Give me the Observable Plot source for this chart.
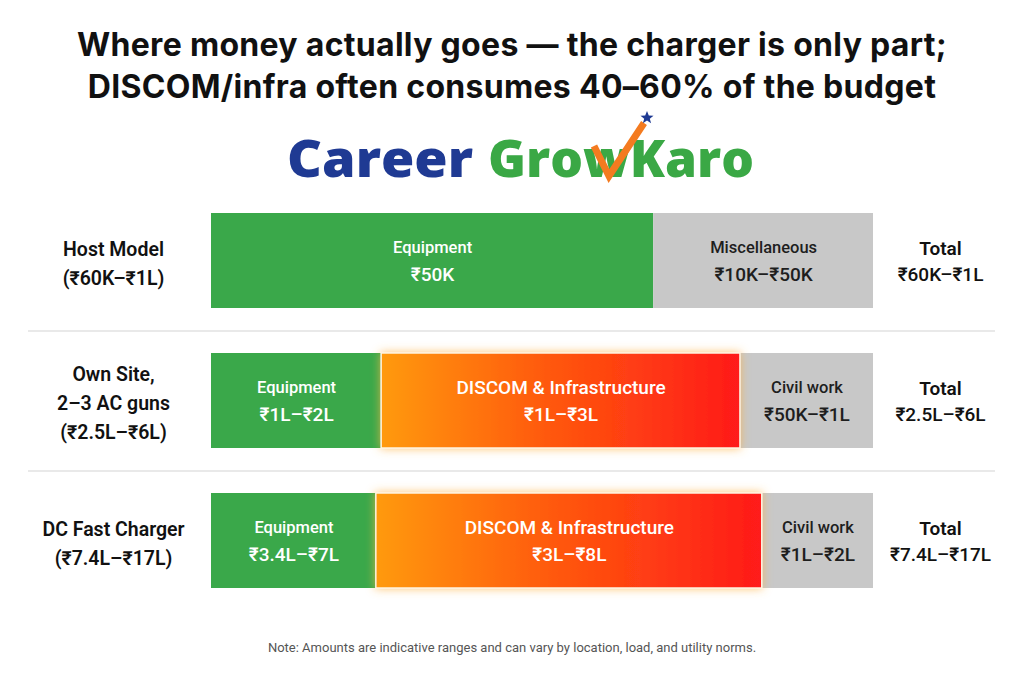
<!DOCTYPE html>
<html>
<head>
<meta charset="utf-8">
<script src="https://cdn.jsdelivr.net/npm/d3@7"></script>
<script src="https://cdn.jsdelivr.net/npm/@observablehq/plot@0.6"></script>
<style>
  html, body { margin:0; padding:0; background:#fff; }
  body { width:1024px; height:683px; position:relative; overflow:hidden; font-family: Roboto, "Noto Sans", "DejaVu Sans", sans-serif; }
  #title { position:absolute; left:0; top:24px; width:1024px; text-align:center; font-family: Inter, Roboto, sans-serif; font-weight:700; font-size:32px; line-height:42px; color:#111; letter-spacing:0.3px; }
  #logo { position:absolute; left:0; top:95px; }
  #chart { position:absolute; left:0; top:185px; }
  #note { position:absolute; left:0; top:640px; width:1024px; text-align:center; font-size:13px; color:#555; }
</style>
</head>
<body>
<div id="title">Where money actually goes — the charger is only part;<br>DISCOM/infra often consumes 40–60% of the budget</div>
<svg id="logo" width="1024" height="110" viewBox="0 95 1024 110">
  <text x="287" y="177" font-family="'Open Sans', Lato, sans-serif" font-weight="800" font-size="52" fill="#1f3a93" textLength="186" lengthAdjust="spacingAndGlyphs">Career</text>
  <text x="488" y="177" font-family="'Open Sans', Lato, sans-serif" font-weight="800" font-size="52" fill="#3aa845" textLength="266" lengthAdjust="spacingAndGlyphs">GrowKaro</text>
  <path d="M594,146 L609,176 L644,123" fill="none" stroke="#f47b20" stroke-width="7" stroke-linejoin="miter"/>
  <path d="M647,111 L648.8,115.6 L653.5,115.8 L649.8,118.7 L651.1,123.3 L647,120.6 L642.9,123.3 L644.2,118.7 L640.5,115.8 L645.2,115.6 Z" fill="#1f3a93"/>
</svg>
<div id="chart"></div>
<div id="note">Note: Amounts are indicative ranges and can vary by location, load, and utility norms.</div>
<script>
// ---- data ----
const rowNames = ["Host Model", "Own Site", "DC Fast Charger"];
const rowLabels = ["Host Model\n(₹60K–₹1L)", "Own Site,\n2–3 AC guns\n(₹2.5L–₹6L)", "DC Fast Charger\n(₹7.4L–₹17L)"];
const totals = ["₹60K–₹1L", "₹2.5L–₹6L", "₹7.4L–₹17L"];
const segRow   = [0, 0, 1, 1, 1, 2, 2, 2];
const segName  = ["Equipment", "Miscellaneous", "Equipment", "DISCOM & Infrastructure", "Civil work", "Equipment", "DISCOM & Infrastructure", "Civil work"];
const segRange = ["₹50K", "₹10K–₹50K", "₹1L–₹2L", "₹1L–₹3L", "₹50K–₹1L", "₹3.4L–₹7L", "₹3L–₹8L", "₹1L–₹2L"];
const segKind  = ["equip", "other", "equip", "discom", "other", "equip", "discom", "other"];
const segShare = [66.8, 33.2, 25.7, 54.2, 20.1, 24.9, 58.3, 16.8]; // % of bar width (visual)

const kindFill = {equip: "#3aa84a", other: "#c8c8c8", discom: "#ff5501"};
const kindText = {equip: "#ffffff", other: "#1e1e1e", discom: "#ffffff"};

// build segments with cumulative extents
const cum = {};
const segs = segName.map((name, i) => {
  const row = rowNames[segRow[i]];
  const start = cum[row] || 0;
  cum[row] = start + segShare[i];
  return {row, name, range: segRange[i], kind: segKind[i], x1: start, x2: start + segShare[i], mid: start + segShare[i] / 2};
});
const rows = rowNames.map((r, i) => ({row: r, label: rowLabels[i], total: totals[i]}));

const font = "Roboto, 'Noto Sans', 'DejaVu Sans', sans-serif";

const chart = Plot.plot({
  width: 1024,
  height: 430,
  marginLeft: 28,
  marginRight: 29,
  marginTop: 6,
  marginBottom: 4,
  style: {fontFamily: font, background: "transparent"},
  x: {domain: [0, 100], range: [211, 873], axis: null},
  y: {domain: rowNames, axis: null, paddingInner: 0.32, paddingOuter: 0.16},
  color: {type: "identity"},
  marks: [
    Plot.ruleY(rowNames.slice(1), {y: d => d, dy: -70, stroke: "#e2e2e2", strokeWidth: 1.5}),
    Plot.barX(segs.filter(d => d.kind !== "discom"), {x1: "x1", x2: "x2", y: "row", fill: d => kindFill[d.kind]}),
    Plot.barX(segs.filter(d => d.kind === "discom"), {x1: "x1", x2: "x2", y: "row", fill: kindFill.discom, stroke: "#fff5e0", strokeWidth: 1.5}),
    Plot.text(segs, {x: "mid", y: "row", text: "name", dy: -13, fill: d => kindText[d.kind], fontSize: d => d.kind === "discom" ? 19 : 16.5, fontWeight: 500}),
    Plot.text(segs, {x: "mid", y: "row", text: "range", dy: 14, fill: d => kindText[d.kind], fontSize: 19, fontWeight: 500}),
    Plot.text(rows, {y: "row", text: "label", frameAnchor: "left", dx: 85, textAnchor: "middle", fontSize: 19.5, fontWeight: 600, lineHeight: 1.48, fill: "#111"}),
    Plot.text(rows, {y: "row", text: () => "Total", frameAnchor: "right", dx: -55, dy: -12, textAnchor: "middle", fontSize: 19, fontWeight: 600, fill: "#111"}),
    Plot.text(rows, {y: "row", text: "total", frameAnchor: "right", dx: -55, dy: 14, textAnchor: "middle", fontSize: 19, fontWeight: 500, fill: "#111"})
  ]
});

// gradient + glow for DISCOM segments
const ns = "http://www.w3.org/2000/svg";
const defs = document.createElementNS(ns, "defs");
defs.innerHTML = `
  <linearGradient id="discomGrad" x1="0" y1="0" x2="1" y2="0">
    <stop offset="0" stop-color="#ff9a0a"/>
    <stop offset="0.45" stop-color="#ff5a0c"/>
    <stop offset="1" stop-color="#ff1a1a"/>
  </linearGradient>
  <filter id="glow" x="-10%" y="-30%" width="120%" height="160%">
    <feFlood flood-color="#ffb347" flood-opacity="0.75"/>
    <feComposite in2="SourceAlpha" operator="in"/>
    <feGaussianBlur stdDeviation="5"/>
    <feMerge><feMergeNode/><feMergeNode in="SourceGraphic"/></feMerge>
  </filter>`;
chart.insertBefore(defs, chart.firstChild);
chart.querySelectorAll('[fill="#ff5501"]').forEach(g => {
  g.setAttribute("fill", "url(#discomGrad)");
  g.setAttribute("filter", "url(#glow)");
});
document.getElementById("chart").appendChild(chart);
</script>
</body>
</html>
